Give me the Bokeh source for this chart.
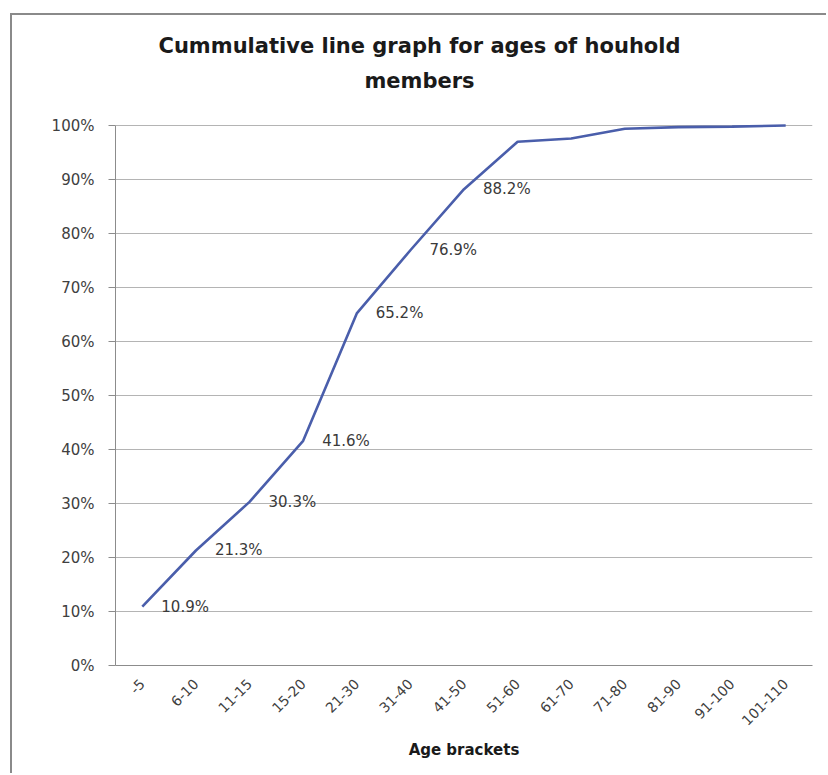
import math
from bokeh.plotting import figure
from bokeh.models import (ColumnDataSource, LabelSet, NumeralTickFormatter, FixedTicker,
                          Label, Range1d)
from bokeh.core.properties import value
from bokeh.embed import file_html
from bokeh.resources import INLINE

categories = ["-5", "6-10", "11-15", "15-20", "21-30", "31-40", "41-50", "51-60",
              "61-70", "71-80", "81-90", "91-100", "101-110"]
cumulative = [0.109, 0.213, 0.303, 0.416, 0.652, 0.769, 0.882, 0.970,
              0.976, 0.994, 0.997, 0.998, 1.000]
labels = ["10.9%", "21.3%", "30.3%", "41.6%", "65.2%", "76.9%", "88.2%",
          "", "", "", "", "", ""]
y_ticks = [0, 0.1, 0.2, 0.3, 0.4, 0.5, 0.6, 0.7, 0.8, 0.9, 1.0]
title_lines = ["Cummulative line graph for ages of houhold", "members"]

FONT = "DejaVu Sans"

src = ColumnDataSource(dict(cat=categories, val=cumulative, lab=labels))

# frame extends above 100% so the title can sit inside it
Y_TOP = 1 + 105 / 540

p = figure(width=816, height=760, x_range=categories, y_range=Range1d(0, Y_TOP),
           output_backend="svg", toolbar_location=None,
           min_border_left=103, min_border_right=16, min_border_top=5,
           min_border_bottom=110,
           styles={"margin-left": "10px", "margin-top": "13px",
                   "border-left": "2px solid #8a8a8a", "border-top": "2px solid #8a8a8a"})
p.background_fill_color = "white"
p.border_fill_color = "white"
p.outline_line_color = None

p.line("cat", "val", source=src, line_color="#4a5eab", line_width=2.6)

ls = LabelSet(x="cat", y="val", text="lab", source=src, x_offset=19, y_offset=0,
              text_baseline="middle", text_align="left", text_font_size="15px",
              text_color="#3a3a3a", text_font=value(FONT))
p.add_layout(ls)

p.xgrid.grid_line_color = None
p.ygrid.grid_line_color = "#b4b4b4"
p.ygrid.grid_line_width = 1
p.ygrid.ticker = FixedTicker(ticks=y_ticks)

p.yaxis.ticker = FixedTicker(ticks=y_ticks)
p.yaxis.bounds = (0, 1)
p.yaxis.formatter = NumeralTickFormatter(format="0%")
p.yaxis.axis_line_color = "#8c8c8c"
p.yaxis.major_tick_line_color = "#8c8c8c"
p.yaxis.major_tick_out = 7
p.yaxis.major_tick_in = 0
p.yaxis.minor_tick_line_color = None
p.yaxis.major_label_text_font = FONT
p.yaxis.major_label_text_font_size = "15px"
p.yaxis.major_label_text_color = "#404040"
p.yaxis.major_label_standoff = 14

p.xaxis.axis_line_color = "#8c8c8c"
p.xaxis.major_tick_line_color = None
p.xaxis.minor_tick_line_color = None
p.xaxis.major_label_orientation = math.pi / 4
p.xaxis.major_label_text_font = FONT
p.xaxis.major_label_text_font_size = "14px"
p.xaxis.major_label_text_color = "#404040"
p.xaxis.major_label_standoff = 10
p.xaxis.axis_label = "Age brackets"
p.xaxis.axis_label_text_font = FONT
p.xaxis.axis_label_text_font_style = "bold"
p.xaxis.axis_label_text_font_size = "15px"
p.xaxis.axis_label_text_color = "#1a1a1a"
p.xaxis.axis_label_standoff = 8

title_y = [1 + 80 / 540, 1 + 45 / 540]
for t, ty in zip(title_lines, title_y):
    p.add_layout(Label(x=5.67, y=ty, text=t, text_align="center", text_baseline="middle",
                       text_font=FONT, text_font_size="21px",
                       text_font_style="bold", text_color="#1a1a1a"))

open("out.html", "w").write(file_html(p, INLINE))
